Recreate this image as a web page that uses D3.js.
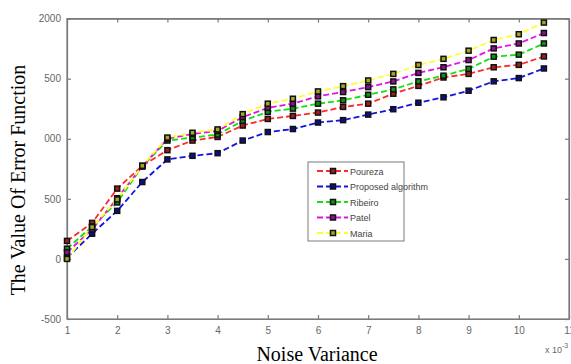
<!DOCTYPE html>
<html>
<head>
<meta charset="utf-8">
<script src="https://cdn.jsdelivr.net/npm/d3@7"></script>
<style>
  html, body { margin: 0; padding: 0; background: #fff; }
  svg { display: block; }
</style>
</head>
<body>
<div id="chart"></div>
<script>
// noise variance (x 10^-3)
const noiseVariance = [1, 1.5, 2, 2.5, 3, 3.5, 4, 4.5, 5, 5.5, 6, 6.5, 7, 7.5, 8, 8.5, 9, 9.5, 10, 10.5];

const poureza = [150, 300, 585, 775, 905, 985, 1015, 1110, 1165, 1190, 1218, 1265, 1292, 1375, 1440, 1510, 1540, 1595, 1615, 1685];
const proposed = [10, 210, 400, 640, 828, 858, 880, 985, 1056, 1081, 1135, 1155, 1201, 1246, 1300, 1345, 1400, 1478, 1505, 1585];
const ribeiro = [85, 270, 470, 770, 985, 1010, 1035, 1150, 1224, 1251, 1292, 1320, 1366, 1411, 1478, 1525, 1582, 1683, 1700, 1793];
const patel = [55, 245, 505, 770, 1000, 1040, 1065, 1180, 1257, 1292, 1353, 1389, 1430, 1477, 1548, 1595, 1655, 1752, 1793, 1880];
const maria = [0, 265, 495, 775, 1010, 1050, 1078, 1205, 1292, 1333, 1394, 1438, 1485, 1540, 1614, 1665, 1733, 1822, 1870, 1967];

const seriesNames = ['Poureza', 'Proposed algorithm', 'Ribeiro', 'Patel', 'Maria'];
const seriesColors = ['#ff2a2a', '#1414e0', '#14e014', '#e014e0', '#ffff30'];
const seriesValues = [poureza, proposed, ribeiro, patel, maria];

const xTicks = [1, 2, 3, 4, 5, 6, 7, 8, 9, 10, 11];
const yTicks = [-500, 0, 500, 1000, 1500, 2000];
// the reference image has the leading "1" of 1500 / 1000 cut away
const yTickLabels = ['-500', '0', '500', '000', '500', '2000'];

const W = 571, H = 364;
const margin = {top: 18.6, right: 2, bottom: 45, left: 67};
const width = W - margin.left - margin.right;
const height = H - margin.top - margin.bottom;

const svg = d3.select('#chart').append('svg')
  .attr('width', W)
  .attr('height', H);

const g = svg.append('g')
  .attr('transform', `translate(${margin.left},${margin.top})`);

const x = d3.scaleLinear().domain([1, 11]).range([0, width]);
const y = d3.scaleLinear().domain([-500, 2000]).range([height, 0]);

const axisColor = '#7a7a7a';
const tickFont = '"Liberation Sans", Arial, sans-serif';

// bottom axis, ticks pointing inward
g.append('g')
  .attr('transform', `translate(0,${height})`)
  .call(d3.axisBottom(x).tickValues(xTicks).tickSizeInner(-4).tickSizeOuter(0).tickPadding(8).tickFormat(d3.format('d')));
// top ticks
g.append('g')
  .call(d3.axisTop(x).tickValues(xTicks).tickSizeInner(-4).tickSizeOuter(0).tickFormat(''));

// left axis
g.append('g')
  .call(d3.axisLeft(y).tickValues(yTicks).tickSizeInner(-4).tickSizeOuter(0).tickPadding(6)
    .tickFormat((d, i) => yTickLabels[i]));
// right ticks
g.append('g')
  .attr('transform', `translate(${width},0)`)
  .call(d3.axisRight(y).tickValues(yTicks).tickSizeInner(-4).tickSizeOuter(0).tickFormat(''));

g.selectAll('.domain, .tick line').attr('stroke', axisColor).attr('stroke-width', 1.2);
g.selectAll('.tick text')
  .attr('fill', '#666')
  .style('font-family', tickFont)
  .style('font-size', '10px');

// the box
g.append('rect')
  .attr('width', width)
  .attr('height', height)
  .attr('fill', 'none')
  .attr('stroke', axisColor)
  .attr('stroke-width', 1.2);

// exponent label
const expo = svg.append('text')
  .attr('x', margin.left + x(10.5) + 1)
  .attr('y', margin.top + height + 34)
  .attr('fill', '#666')
  .style('font-family', tickFont)
  .style('font-size', '9px')
  .text('x 10');
expo.append('tspan')
  .attr('dy', -5)
  .style('font-size', '7px')
  .text('-3');

// series lines and markers
const line = d3.line()
  .x((d, i) => x(noiseVariance[i]))
  .y(d => y(d));

seriesValues.forEach((vals, k) => {
  g.append('path')
    .datum(vals)
    .attr('fill', 'none')
    .attr('stroke', seriesColors[k])
    .attr('stroke-width', 1.8)
    .attr('stroke-dasharray', '6,3')
    .attr('d', line);
});

seriesValues.forEach((vals, k) => {
  g.selectAll(null)
    .data(vals)
    .enter().append('rect')
    .attr('x', (d, i) => x(noiseVariance[i]) - 2.5)
    .attr('y', d => y(d) - 2.5)
    .attr('width', 5)
    .attr('height', 5)
    .attr('fill', d3.color(seriesColors[k]).darker(1.2))
    .attr('stroke', '#111')
    .attr('stroke-width', 1.5);
});

// legend
const legend = svg.append('g').attr('transform', 'translate(308,162)');
legend.append('rect')
  .attr('width', 96)
  .attr('height', 79)
  .attr('fill', '#fff')
  .attr('stroke', axisColor)
  .attr('stroke-width', 1);

seriesNames.forEach((name, k) => {
  const row = legend.append('g').attr('transform', `translate(0,${9 + k * 15.5})`);
  row.append('line')
    .attr('x1', 9).attr('x2', 40)
    .attr('stroke', seriesColors[k])
    .attr('stroke-width', 1.8)
    .attr('stroke-dasharray', '6,3');
  row.append('rect')
    .attr('x', 22.5).attr('y', -2.5)
    .attr('width', 5).attr('height', 5)
    .attr('fill', d3.color(seriesColors[k]).darker(1.2))
    .attr('stroke', '#111')
    .attr('stroke-width', 1.5);
  row.append('text')
    .attr('x', 42)
    .attr('y', 3.5)
    .attr('fill', '#444')
    .style('font-family', tickFont)
    .style('font-size', '9px')
    .text(name);
});

// axis titles
svg.append('text')
  .attr('x', margin.left + width / 2 - 1)
  .attr('y', H - 3)
  .attr('text-anchor', 'middle')
  .style('font-family', '"Liberation Serif", "Times New Roman", serif')
  .style('font-size', '20px')
  .text('Noise Variance');

svg.append('text')
  .attr('transform', `translate(25,180) rotate(-90)`)
  .attr('text-anchor', 'middle')
  .style('font-family', '"Liberation Serif", "Times New Roman", serif')
  .style('font-size', '20px')
  .text('The Value Of Error Function');
</script>
</body>
</html>
